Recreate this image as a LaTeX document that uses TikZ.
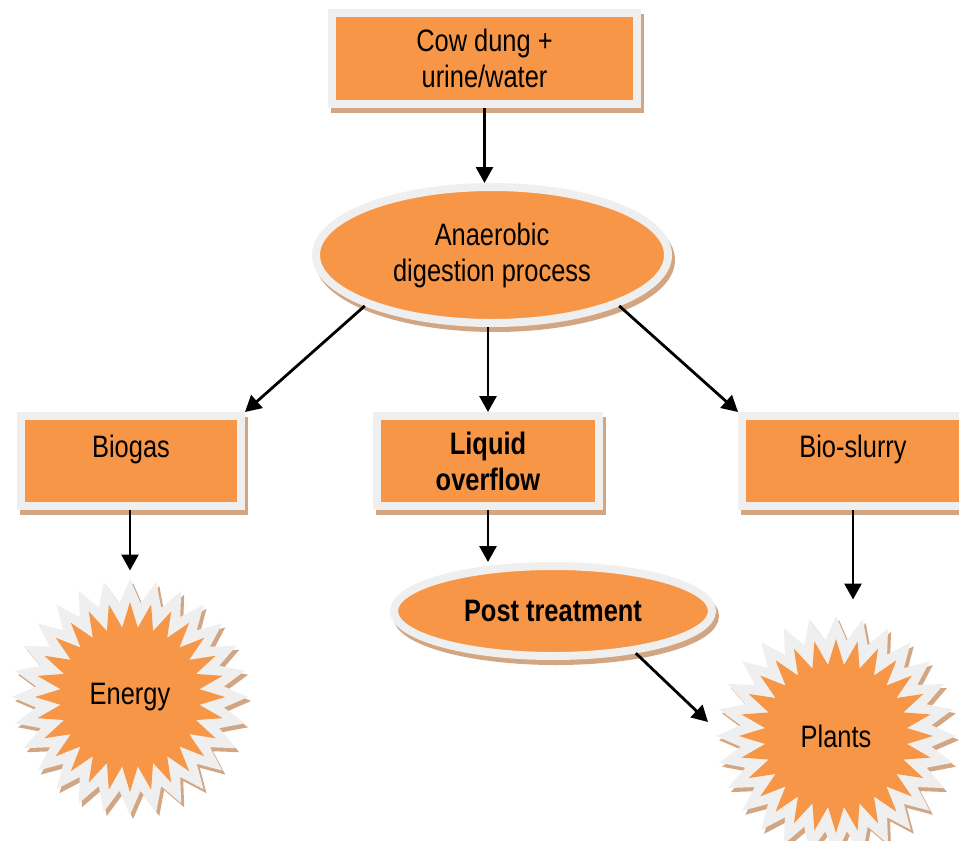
\documentclass[tikz,border=0pt]{standalone}
\usepackage{fontspec}
\setmainfont[FakeStretch=0.82]{Liberation Sans}
\usetikzlibrary{shapes.geometric, arrows.meta}
\definecolor{fillorange}{HTML}{F79646}
\definecolor{rimgray}{HTML}{EFEFEF}
\definecolor{shadebrown}{HTML}{D2A683}
\tikzset{>={Triangle[width=17pt,length=16pt]}}
\tikzset{
  txt/.style={font=\fontsize{31}{36}\selectfont},
  boldtxt/.style={font=\fontsize{31}{36}\selectfont\bfseries},
  brownshadow/.style={preaction={fill=shadebrown, draw=shadebrown, line width=8pt,
      transform canvas={shift={(3pt,-5pt)}}}},
  starshadow/.style={preaction={fill=shadebrown,
      transform canvas={shift={(3pt,-4pt)}}}},
  box/.style={rectangle, fill=fillorange, draw=rimgray, line width=8pt,
      brownshadow, align=center, inner sep=2pt, txt},
  oval/.style={ellipse, fill=fillorange, draw=rimgray, line width=8pt,
      brownshadow, align=center, inner sep=1pt, txt},
  toptext/.style={text depth=29pt},
  rim/.style={star, star points=28, star point ratio=1.25, fill=rimgray,
      inner sep=0pt, starshadow},
  burst/.style={star, star points=28, star point ratio=1.36, fill=fillorange,
      inner sep=0pt, txt},
  arr/.style={->, line width=2.8pt}
}
\begin{document}
\begin{tikzpicture}[x=1pt, y=-1pt]
    \useasboundingbox (0,0) rectangle (959,841);
    \node[box, minimum width=305pt, minimum height=91pt] (cow) at (484.5,58.5) {Cow dung +\\urine/water};
    \node[oval, minimum width=352pt, minimum height=136pt] (adp) at (492,255) {Anaerobic\\digestion process};
    \node[box, toptext, minimum width=220pt, minimum height=90pt] (biogas) at (131,461) {Biogas};
    \node[box, boldtxt, minimum width=222pt, minimum height=90pt] (liquid) at (488,461) {Liquid\\overflow};
    \node[box, toptext, minimum width=222pt, minimum height=90pt] (slurry) at (853,461) {Bio-slurry};
    \node[oval, boldtxt, minimum width=318pt, minimum height=90pt] (post) at (553,611) {Post treatment};
    \node[rim, minimum size=236pt] (energy-rim) at (130,697) {};
    \node[burst, minimum size=190pt] (energy) at (130,697) {Energy};
    \node[rim, minimum size=240pt] (plants-rim) at (836,736) {};
    \node[burst, minimum size=194pt] (plants) at (836,736) {Plants};
    \coordinate (plants-in) at (708,722);
    \draw[arr] (cow.south) -- (cow.south |- adp.north);
    \draw[arr] (adp.south west) -- (biogas.north east);
    \draw[arr] (liquid.north |- adp.south) -- (liquid.north);
    \draw[arr] (adp.south east) -- (slurry.north west);
    \draw[arr] (energy-rim.north |- biogas.south) -- ([yshift=8pt]energy-rim.north);
    \draw[arr] (liquid.south) -- (liquid.south |- post.north);
    \draw[arr, shorten >=16pt] (slurry.south) -- (slurry.south |- plants-rim.north);
    \draw[arr] (post.-27) -- (plants-in);
\end{tikzpicture}
\end{document}
